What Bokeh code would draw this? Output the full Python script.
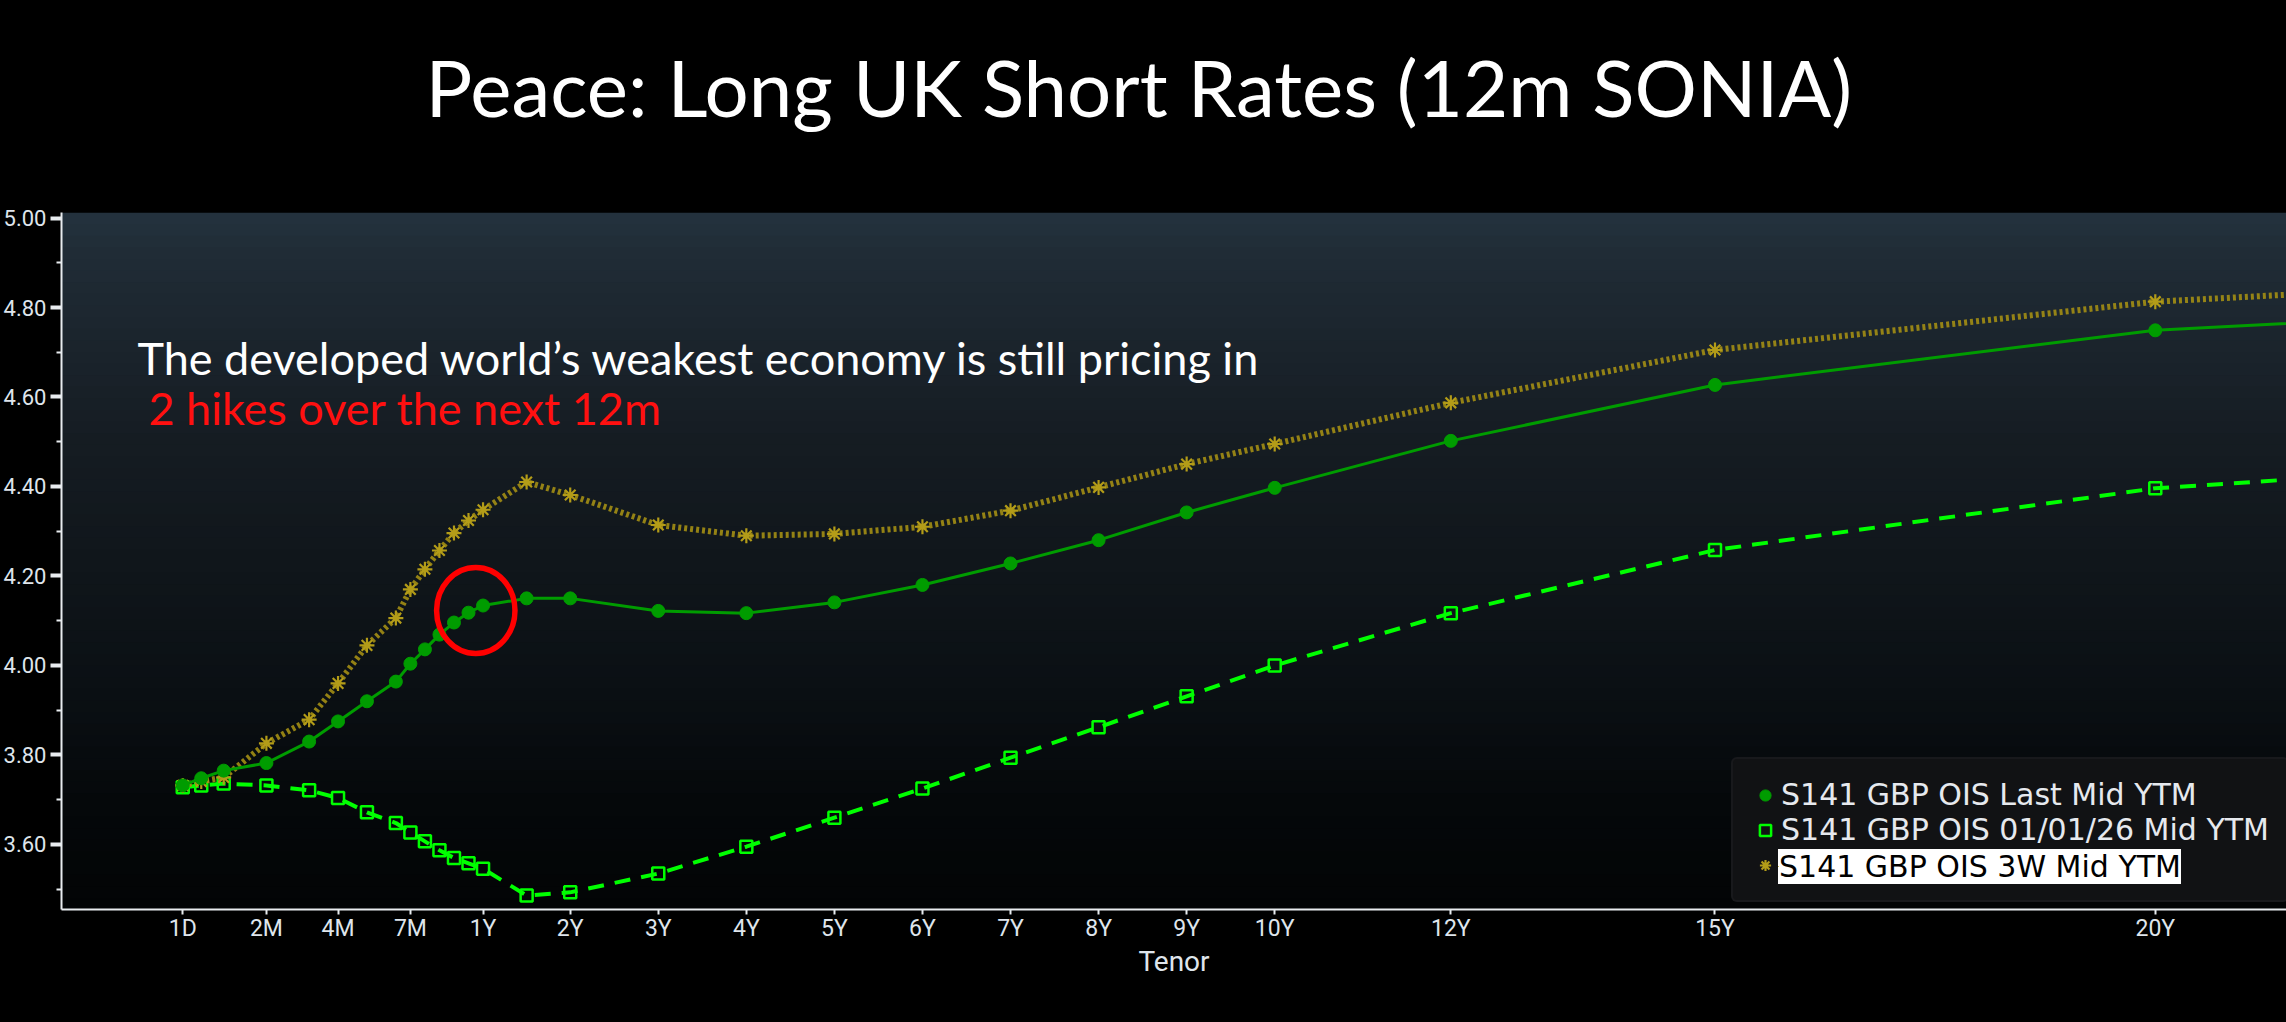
import numpy as np
from bokeh.plotting import figure
from bokeh.models import (Range1d, FixedTicker, NumeralTickFormatter, Legend, LegendItem,
                          Label, BoxAnnotation, Title)
from bokeh.embed import file_html
from bokeh.resources import INLINE

# ---------------- data ----------------
TITLE = "Peace: Long UK Short Rates (12m SONIA)"
NOTE_1 = "The developed world\u2019s weakest economy is still pricing in"
NOTE_2 = "2 hikes over the next 12m"

TENORS = ["1D", "1W", "1M", "2M", "3M", "4M", "5M", "6M", "7M", "8M", "9M", "10M", "11M",
          "1Y", "18M", "2Y", "3Y", "4Y", "5Y", "6Y", "7Y", "8Y", "9Y", "10Y", "12Y", "15Y",
          "20Y", "25Y"]

LAST_MID = [3.732, 3.748, 3.765, 3.782, 3.830, 3.875, 3.920, 3.964, 4.004, 4.036, 4.069,
            4.096, 4.118, 4.134, 4.150, 4.150, 4.122, 4.117, 4.141, 4.180, 4.228, 4.280,
            4.342, 4.397, 4.502, 4.627, 4.749, 4.800]

JAN26_MID = [3.728, 3.732, 3.736, 3.732, 3.721, 3.704, 3.672, 3.648, 3.627, 3.607, 3.587,
             3.570, 3.558, 3.546, 3.486, 3.493, 3.535, 3.595, 3.660, 3.725, 3.794, 3.862,
             3.931, 4.000, 4.117, 4.258, 4.396, 4.460]

W3_MID = [3.732, 3.741, 3.750, 3.826, 3.879, 3.960, 4.045, 4.106, 4.170, 4.215, 4.257,
          4.296, 4.324, 4.348, 4.410, 4.381, 4.314, 4.290, 4.294, 4.310, 4.346, 4.398,
          4.450, 4.495, 4.587, 4.705, 4.813, 4.865]

SERIES_NAMES = ["S141 GBP OIS Last Mid YTM", "S141 GBP OIS 01/01/26 Mid YTM",
                "S141 GBP OIS 3W Mid YTM"]

X_TICK_LABELS = ["1D", "2M", "4M", "7M", "1Y", "2Y", "3Y", "4Y", "5Y", "6Y", "7Y", "8Y",
                 "9Y", "10Y", "12Y", "15Y", "20Y"]
Y_TICKS = [3.6, 3.8, 4.0, 4.2, 4.4, 4.6, 4.8, 5.0]
Y_MINOR = [3.5, 3.7, 3.9, 4.1, 4.3, 4.5, 4.7, 4.9]

# Bloomberg-style tenor axis: piecewise scale (years -> axis position)
KNOT_YEARS = [1 / 365, 7 / 365, 1 / 12, 0.25, 0.5, 1.0, 2.0, 40.0]
KNOT_POS = [-2.40, -2.19, -1.935, -0.965, 0.02, 1.01, 2.0, 40.0]


def tenor_years(t):
    n, unit = int(t[:-1]), t[-1]
    return {"D": n / 365, "W": 7 * n / 365, "M": n / 12, "Y": float(n)}[unit]


def tenor_pos(t):
    return round(float(np.interp(tenor_years(t), KNOT_YEARS, KNOT_POS)), 6)


xs = [tenor_pos(t) for t in TENORS]

# ---------------- figure ----------------
W, H = 2286, 1022
FL, FT, FB = 60, 212, 909          # frame left / top / bottom (px)
XR = (-3.777, 21.49)
YR = (3.4547, 5.0123)

p = figure(width=W, height=H, output_backend="svg", toolbar_location=None,
           x_range=Range1d(*XR), y_range=Range1d(*YR),
           min_border_left=FL, min_border_right=0, min_border_top=FT,
           min_border_bottom=H - FB,
           background_fill_color="#000000", border_fill_color="#000000",
           outline_line_color=None)
p.xgrid.visible = False
p.ygrid.visible = False


def px_to_data(px, py):
    """pixel position inside the frame -> data coordinates (for annotations)"""
    x = XR[0] + (px - FL) / (W - FL) * (XR[1] - XR[0])
    y = YR[0] + (FB - py) / (FB - FT) * (YR[1] - YR[0])
    return x, y


# title (outermost above panel) + invisible spacer panel between it and the frame
p.title.text = TITLE
p.title.text_font = "Lato"
p.title.text_font_size = "78px"
p.title.text_font_style = "normal"
p.title.text_color = "#ffffff"
p.title.align = "left"
p.title.offset = 364
p.title.vertical_align = "bottom"
p.title.standoff = 0
p.add_layout(Title(text=" ", text_font_size="10px", text_color="#000000", standoff=66,
                   vertical_align="bottom"), "above")

# gradient plot background
stops_f = [0.0, 0.06, 0.33, 0.70, 0.85, 1.0]
stops_rgb = np.array([[36, 50, 62], [32, 44, 54], [21, 28, 34], [10, 15, 19], [5, 8, 10],
                      [2, 4, 5]], dtype=float)
y0, y1 = YR
NB = 60
for i in range(NB):
    f = (i + 0.5) / NB
    rgb = [int(round(np.interp(f, stops_f, stops_rgb[:, k]))) for k in range(3)]
    top = y1 - (y1 - y0) * i / NB
    bot = y1 - (y1 - y0) * (i + 1) / NB - 0.002
    p.add_layout(BoxAnnotation(top=top, bottom=bot, fill_color="#%02x%02x%02x" % tuple(rgb),
                               fill_alpha=1.0, line_alpha=0, level="underlay"))

# series
GREEN = "#009c00"
LIME = "#00ff00"
GOLD = "#a38e14"

l_jan = p.line(xs, JAN26_MID, line_color=LIME, line_width=4, line_dash="16 11")
s_jan = p.scatter(xs, JAN26_MID, marker="square", size=12, fill_alpha=0,
                  line_color=LIME, line_width=2.5)

l_w3 = p.line(xs, W3_MID, line_color=GOLD, line_width=6, line_dash="3 3", line_alpha=0.9)
s_w3 = p.scatter(xs, W3_MID, marker="asterisk", size=15, line_color="#b39c18", line_width=2.2)

l_last = p.line(xs, LAST_MID, line_color=GREEN, line_width=3)
s_last = p.scatter(xs, LAST_MID, marker="circle", size=13, fill_color=GREEN, line_color=GREEN)

# red highlight ellipse around the 11M-1Y points
ELL_YEARS = 11.5 / 12
ELL_Y = 4.123
p.ellipse(x=[float(np.interp(ELL_YEARS, KNOT_YEARS, KNOT_POS))], y=[ELL_Y], width=0.89,
          height=0.192, fill_alpha=0, line_color="#ff0000", line_width=5.5)

# axes
xa = p.xaxis[0]
xa.ticker = FixedTicker(ticks=[tenor_pos(t) for t in X_TICK_LABELS], minor_ticks=[])
xa.major_label_overrides = {tenor_pos(t): t for t in X_TICK_LABELS}
xa.axis_label = "Tenor"
xa.axis_label_text_font = "Roboto"
xa.axis_label_text_font_size = "28px"
xa.axis_label_text_font_style = "normal"
xa.axis_label_text_color = "#dfe5ec"
xa.axis_label_standoff = 0
xa.major_label_text_font = "Roboto"
xa.major_label_text_font_size = "23px"
xa.major_label_text_color = "#dfe5ec"
xa.major_label_standoff = 0
xa.axis_line_color = "#e8ecef"
xa.axis_line_width = 2
xa.major_tick_line_color = "#e8ecef"
xa.major_tick_line_width = 2
xa.major_tick_out = 5
xa.major_tick_in = 0
xa.minor_tick_line_color = None

ya = p.yaxis[0]
ya.ticker = FixedTicker(ticks=Y_TICKS, minor_ticks=Y_MINOR)
ya.formatter = NumeralTickFormatter(format="0.00")
ya.major_label_text_font = "Roboto"
ya.major_label_text_font_size = "22px"
ya.major_label_text_color = "#dfe5ec"
ya.major_label_standoff = 4
ya.axis_line_color = "#e8ecef"
ya.axis_line_width = 2
ya.major_tick_line_color = "#e8ecef"
ya.major_tick_line_width = 4
ya.major_tick_out = 11
ya.major_tick_in = 0
ya.minor_tick_line_color = "#e8ecef"
ya.minor_tick_line_width = 2
ya.minor_tick_out = 5
ya.minor_tick_in = 0

# commentary
nx1, ny1 = px_to_data(136, 357)
nx2, ny2 = px_to_data(147, 407)
p.add_layout(Label(x=nx1, y=ny1, text=NOTE_1, text_font="Lato", text_font_size="45px",
                   text_color="#ffffff", text_baseline="alphabetic"))
p.add_layout(Label(x=nx2, y=ny2, text=NOTE_2, text_font="Lato", text_font_size="45px",
                   text_color="#ff1010", text_baseline="alphabetic"))

# legend
LEG_X, LEG_Y, LEG_PAD, LEG_GW, LEG_STAND = 1670, 7, 18, 28, 2
LEG_FONT, LEG_FONT_SIZE, LEG_ROW = "DejaVu Sans", "30px", 35
legend = Legend(items=[LegendItem(label=SERIES_NAMES[0], renderers=[s_last]),
                       LegendItem(label=SERIES_NAMES[1], renderers=[s_jan]),
                       LegendItem(label=SERIES_NAMES[2], renderers=[s_w3])],
                location=(LEG_X, LEG_Y), padding=LEG_PAD, spacing=0, margin=0,
                glyph_width=LEG_GW, glyph_height=28, label_standoff=LEG_STAND,
                label_height=LEG_ROW, label_text_font=LEG_FONT,
                label_text_font_size=LEG_FONT_SIZE,
                label_text_color="#e6e9ee", background_fill_color="#111214",
                background_fill_alpha=1.0, border_line_color="#1f2023", border_line_width=2,
                border_radius=6)
p.add_layout(legend)

# highlighted (selected) third entry: black text on a white box, drawn over the legend
legend_sel = Legend(items=[LegendItem(label=SERIES_NAMES[2], renderers=[s_w3])],
                    location=(LEG_X + LEG_PAD + LEG_GW + LEG_STAND - 1, LEG_Y + LEG_PAD),
                    padding=0, spacing=0, margin=0, glyph_width=1, glyph_height=1,
                    label_standoff=0, label_height=LEG_ROW, label_text_font=LEG_FONT,
                    label_text_font_size=LEG_FONT_SIZE, label_text_color="#000000",
                    background_fill_color="#ffffff", background_fill_alpha=1.0,
                    border_line_color=None, border_radius=0)
p.add_layout(legend_sel)

html = file_html(p, INLINE, title="Peace: Long UK Short Rates")
html = html.replace("<head>", "<head>\n<style>html, body { background: #000000; margin: 0; "
                    "padding: 0; overflow: hidden; }</style>", 1)
open("out.html", "w").write(html)
